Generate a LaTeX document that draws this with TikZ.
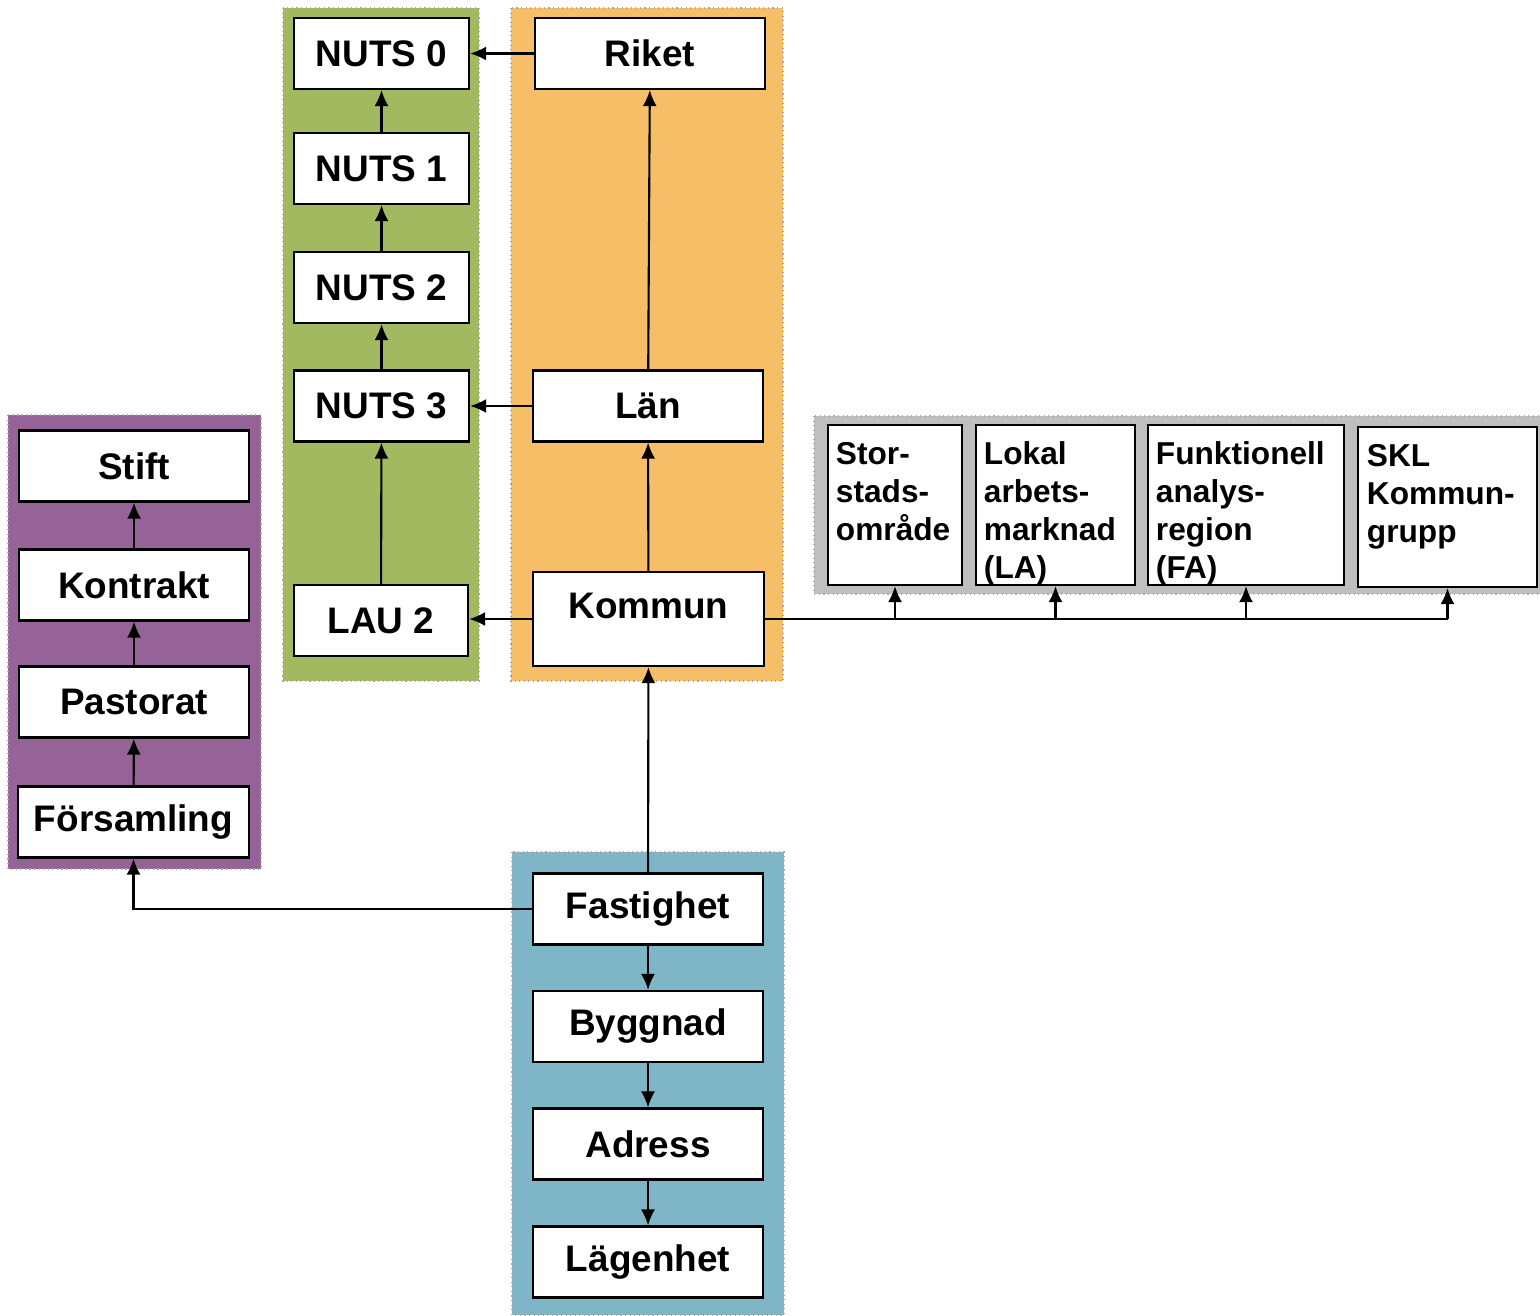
\documentclass[tikz,border=0pt]{standalone}
\usepackage{fontspec}
\setmainfont{Liberation Sans}
\usetikzlibrary{arrows.meta}
\definecolor{nutsgreen}{RGB}{163,185,96}
\definecolor{rikeorange}{RGB}{247,190,104}
\definecolor{kyrkpurple}{RGB}{150,99,153}
\definecolor{fastblue}{RGB}{126,182,200}
\definecolor{indelgray}{RGB}{191,191,191}

\begin{document}
\begin{tikzpicture}[x=0.01cm, y=-0.01cm,
    levelbox/.style={draw, line width=0.6pt, fill=white, minimum width=2.3cm,
        minimum height=0.71cm, inner sep=0pt,
        font=\fontsize{10.5}{12.6}\selectfont\bfseries},
    smallbox/.style={draw, line width=0.6pt, fill=white, inner xsep=0.08cm,
        inner ysep=0.17cm, font=\fontsize{9}{10.8}\selectfont\bfseries},
    link/.style={line width=0.6pt, -{Latex[length=0.16cm, width=0.14cm]}},
    panel/.style={draw=gray!70, densely dotted, line width=0.3pt}]
    \useasboundingbox (0,0) rectangle (1540,1315);

    % coloured panels
    \filldraw[panel, fill=nutsgreen] (283,8) rectangle (479,681);
    \filldraw[panel, fill=rikeorange] (511,8) rectangle (783,681);
    \filldraw[panel, fill=kyrkpurple] (8,415) rectangle (261,869);
    \filldraw[panel, fill=fastblue] (512,852) rectangle (784,1315);
    \filldraw[panel, fill=indelgray] (814,416) rectangle (1540,594);

    % NUTS column
    \node[levelbox, minimum width=1.75cm] (nuts0) at (381.5,53.5) {NUTS 0};
    \node[levelbox, minimum width=1.75cm] (nuts1) at (381.5,168.5) {NUTS 1};
    \node[levelbox, minimum width=1.75cm] (nuts2) at (381.5,287.5) {NUTS 2};
    \node[levelbox, minimum width=1.75cm] (nuts3) at (381.5,406) {NUTS 3};
    \node[levelbox, minimum width=1.74cm] (lau2) at (381,620.5) {LAU 2};

    % administrative column
    \node[levelbox] (riket) at (650,53.5) {Riket};
    \node[levelbox] (lan) at (648,406) {Län};
    \node[levelbox, minimum width=2.31cm, minimum height=0.94cm,
        text height=0.27cm, text depth=0.28cm] (kommun) at (648.5,619) {Kommun};

    % church column
    \node[levelbox] (stift) at (134,466) {Stift};
    \node[levelbox] (kontrakt) at (134,585) {Kontrakt};
    \node[levelbox] (pastorat) at (134,702) {Pastorat};
    \node[levelbox, minimum width=2.31cm] (forsamling) at (133.5,822) {Församling};

    % property column
    \node[levelbox] (fastighet) at (648,909) {Fastighet};
    \node[levelbox] (byggnad) at (648,1026.5) {Byggnad};
    \node[levelbox] (adress) at (648,1144) {Adress};
    \node[levelbox] (lagenhet) at (648,1262) {Lägenhet};

    % regional groupings
    \node[smallbox] (stor) at (895,505)
        {\parbox[c][1.26cm][t]{1.18cm}{Stor-\\stads-\\område}};
    \node[smallbox] (lokal) at (1055.5,505)
        {\parbox[c][1.26cm][t]{1.43cm}{Lokal\\arbets-\\marknad\\(LA)}};
    \node[smallbox] (funk) at (1246,505)
        {\parbox[c][1.26cm][t]{1.8cm}{Funktionell\\analys-\\region\\(FA)}};
    \node[smallbox, inner xsep=0.09cm] (skl) at (1447.5,507)
        {\parbox[c][1.26cm][t]{1.61cm}{SKL\\Kommun-\\grupp}};

    % connectors
    \draw[link] (riket) -- (nuts0);
    \draw[link] (nuts1) -- (nuts0);
    \draw[link] (nuts2) -- (nuts1);
    \draw[link] (nuts3) -- (nuts2);
    \draw[link] (lau2) -- (nuts3);
    \draw[link] (lan) -- (nuts3);
    \draw[link] (kommun.west) -- (kommun.west -| lau2.east);
    \draw[link] (lan) -- (riket);
    \draw[link] (kommun) -- (lan);
    \draw[link] (fastighet) -- (kommun);
    \draw[link] (fastighet) -- (byggnad);
    \draw[link] (byggnad) -- (adress);
    \draw[link] (adress) -- (lagenhet);
    \draw[link] (fastighet.west) -| (forsamling.south);
    \draw[link] (forsamling) -- (pastorat);
    \draw[link] (pastorat) -- (kontrakt);
    \draw[link] (kontrakt) -- (stift);

    \draw[line width=0.8pt] (kommun.east) -- (kommun.east -| skl.south);
    \foreach \grp in {stor, lokal, funk, skl}
        \draw[link] (kommun.east -| \grp.south) -- (\grp.south);
\end{tikzpicture}
\end{document}
